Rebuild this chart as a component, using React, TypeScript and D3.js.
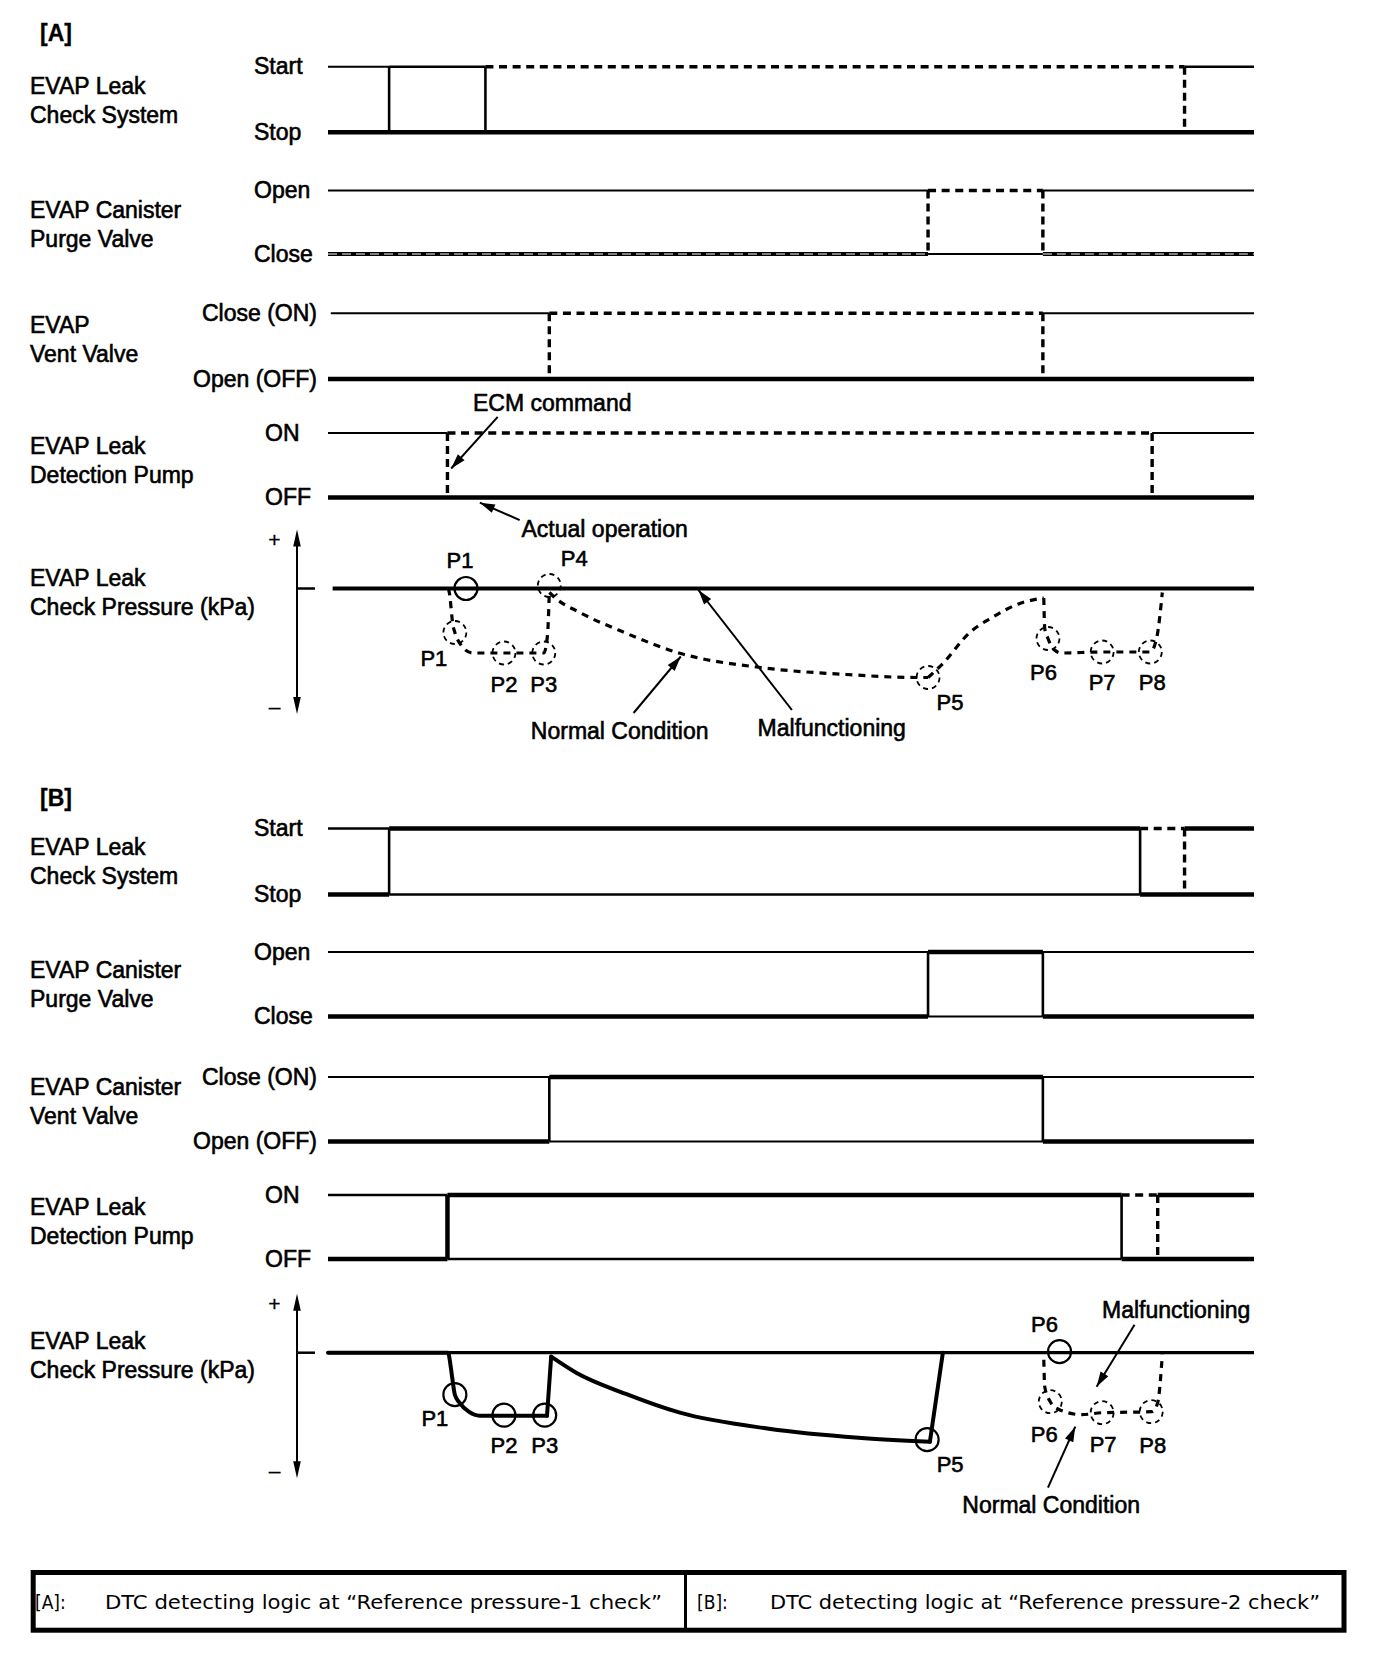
import React from "react";
import * as d3 from "d3";

const W = 1376;
const H = 1660;

// time runs 0..100 across the trace; pressure is relative to the reference level (0)
type Seg = [number, number, string];
type Edge = [number, string];
type Pt = [number, number];

const namesA = [["EVAP Leak", "Check System"], ["EVAP Canister", "Purge Valve"], ["EVAP", "Vent Valve"], ["EVAP Leak", "Detection Pump"]];
const namesB = [["EVAP Leak", "Check System"], ["EVAP Canister", "Purge Valve"], ["EVAP Canister", "Vent Valve"], ["EVAP Leak", "Detection Pump"]];
const stateNames = [["Start", "Stop"], ["Open", "Close"], ["Close (ON)", "Open (OFF)"], ["ON", "OFF"]];
const pressureName = ["EVAP Leak", "Check Pressure (kPa)"];

// [A] signal traces: high rail, low rail, transitions
const highA: Seg[][] = [
  [[0, 6.6, "rail"], [6.6, 17.0, "mid"], [17.0, 92.5, "cmd"], [92.5, 100, "mid"]],
  [[0, 64.8, "rail"], [64.8, 77.2, "cmd"], [77.2, 100, "rail"]],
  [[0.3, 23.9, "rail"], [23.9, 77.2, "cmd"], [77.2, 100, "rail"]],
  [[0, 12.9, "rail"], [12.9, 89.0, "cmd"], [89.0, 100, "rail"]],
];
const lowA: Seg[][] = [
  [[0, 100, "on"]],
  [[0, 64.8, "hatch"], [64.8, 77.2, "rail"], [77.2, 100, "hatch"]],
  [[0, 100, "on"]],
  [[0, 100, "on"]],
];
const edgesA: Edge[][] = [
  [[6.6, "mid"], [17.0, "mid"], [92.5, "cmd"]],
  [[64.8, "cmd"], [77.2, "cmd"]],
  [[23.9, "cmd"], [77.2, "cmd"]],
  [[12.9, "cmd"], [89.0, "cmd"]],
];

// [B] signal traces
const highB: Seg[][] = [
  [[0, 6.6, "mid"], [6.6, 87.7, "on"], [87.7, 92.5, "cmd"], [92.5, 100, "on"]],
  [[0, 100, "rail"], [64.8, 77.2, "on"]],
  [[0, 100, "rail"], [23.9, 77.2, "on"]],
  [[0, 12.9, "mid"], [12.9, 85.7, "on"], [85.7, 89.6, "cmd"], [89.6, 100, "on"]],
];
const lowB: Seg[][] = [
  [[0, 6.6, "on"], [6.6, 87.7, "mid"], [87.7, 100, "on"]],
  [[0, 64.8, "on"], [64.8, 77.2, "rail"], [77.2, 100, "on"]],
  [[0, 23.9, "on"], [23.9, 77.2, "rail"], [77.2, 100, "on"]],
  [[0, 12.9, "on"], [12.9, 85.7, "mid"], [85.7, 100, "on"]],
];
const edgesB: Edge[][] = [
  [[6.6, "mid"], [87.7, "mid"], [92.5, "cmd"]],
  [[64.8, "mid"], [77.2, "mid"]],
  [[23.9, "mid"], [77.2, "mid"]],
  [[12.9, "on"], [85.7, "mid"], [89.6, "cmd"]],
];

// pressure traces, one array per smooth stretch
const normalA: Pt[][] = [
  [[13.0, 0], [13.1, -0.04], [13.5, -0.37], [13.7, -0.44], [14.4, -0.57], [15.6, -0.645],
   [19.0, -0.645], [23.3, -0.645], [23.7, -0.47], [23.9, -0.04]],
  [[23.9, -0.04], [24.6, -0.1], [27.2, -0.24], [32.0, -0.44], [37.9, -0.645], [46.7, -0.79],
   [56.0, -0.86], [63.5, -0.89], [64.8, -0.89]],
  [[64.8, -0.89], [66.4, -0.75], [69.3, -0.44], [71.7, -0.29], [74.7, -0.15], [77.3, -0.095]],
  [[77.3, -0.095], [77.4, -0.4], [77.75, -0.5], [78.4, -0.61], [79.2, -0.645], [83.6, -0.635],
   [88.8, -0.635], [89.5, -0.49], [90.1, -0.04]],
];
const actualB: Pt[][] = [
  [[0, 0], [13.0, 0], [13.05, -0.02], [13.4, -0.24], [13.7, -0.42], [14.2, -0.5], [15.2, -0.59],
   [16.4, -0.63], [23.65, -0.63]],
  [[23.65, -0.63], [24.1, -0.04]],
  [[24.1, -0.04], [26.8, -0.2], [32.1, -0.41], [38.0, -0.6], [47.6, -0.76], [57.3, -0.85],
   [65.0, -0.89]],
  [[65.0, -0.89], [66.4, 0]],
];
const normalB: Pt[][] = [
  [[77.3, -0.07], [77.4, -0.34], [78.0, -0.49], [79.0, -0.57], [81.4, -0.62], [83.6, -0.6],
   [89.0, -0.59], [89.6, -0.5], [90.1, -0.02]],
];

const markersA = [
  { name: "P1", t: 14.9, p: 0, dashed: false },
  { name: "P4", t: 23.9, p: 0.03, dashed: true },
  { name: "P1", t: 13.7, p: -0.44, dashed: true },
  { name: "P2", t: 19.0, p: -0.645, dashed: true },
  { name: "P3", t: 23.3, p: -0.645, dashed: true },
  { name: "P5", t: 64.8, p: -0.89, dashed: true },
  { name: "P6", t: 77.75, p: -0.5, dashed: true },
  { name: "P7", t: 83.6, p: -0.635, dashed: true },
  { name: "P8", t: 88.8, p: -0.635, dashed: true },
];
const markersB = [
  { name: "P1", t: 13.7, p: -0.42, dashed: false },
  { name: "P2", t: 19.0, p: -0.625, dashed: false },
  { name: "P3", t: 23.4, p: -0.625, dashed: false },
  { name: "P5", t: 64.7, p: -0.87, dashed: false },
  { name: "P6", t: 79.0, p: 0.01, dashed: false },
  { name: "P6", t: 78.0, p: -0.49, dashed: true },
  { name: "P7", t: 83.6, p: -0.6, dashed: true },
  { name: "P8", t: 88.9, p: -0.59, dashed: true },
];

// callouts: text position, arrow tail, arrow head (t, value)
const callRowA = [
  { text: "ECM command", at: [15.66, 1.34], from: [18.33, 1.25], to: [13.3, 0.45], anchor: "start" },
  { text: "Actual operation", at: [20.9, -0.61], from: [20.7, -0.35], to: [16.4, -0.08], anchor: "start" },
];
const callPressA = [
  { text: "Normal Condition", at: [31.5, -1.5], from: [33.0, -1.245], to: [38.1, -0.68], anchor: "middle" },
  { text: "Malfunctioning", at: [54.4, -1.475], from: [50.1, -1.215], to: [40.0, -0.015], anchor: "middle" },
];
const callPressB = [
  { text: "Malfunctioning", at: [91.6, 0.35], from: [87.1, 0.28], to: [83.0, -0.34], anchor: "middle" },
  { text: "Normal Condition", at: [78.1, -1.6], from: [77.75, -1.35], to: [80.7, -0.74], anchor: "middle" },
];

const legendKeys = ["[A]:", "[B]:"];
const legendTexts = ["DTC detecting logic at \u201CReference pressure-1 check\u201D", "DTC detecting logic at \u201CReference pressure-2 check\u201D"];

// ---- layout ----
const x = d3.scaleLinear().domain([0, 100]).range([328, 1254]);
const FONT = "'Liberation Sans', Arial, Helvetica, sans-serif";
const layoutA = {
  title: "[A]", titleY: 41,
  rows: [[66.7, 132.3], [190.5, 254], [313.3, 379], [433, 497.5]],
  nameY: [94, 218, 333, 454],
  base: 588.5, pNameY: 585.7,
};
const layoutB = {
  title: "[B]", titleY: 806,
  rows: [[828.5, 894.5], [952, 1016.5], [1077, 1141.5], [1195, 1259]],
  nameY: [855, 978, 1095, 1215],
  base: 1352.7, pNameY: 1349.3,
};
const labelOffA = [[-6, -21], [25, -20], [-21, 33], [0, 38.7], [0, 38.7], [22, 32.5], [-4.5, 41.5], [0, 38], [2, 38]];
const labelOffB = [[-20, 31.7], [0, 37.5], [0, 37.5], [23, 32], [-15, -20], [-6, 40], [1, 39.7], [1.5, 41]];

const WIDTH: Record<string, number> = { rail: 2, mid: 2.6, on: 4.5, cmd: 3.4 };

const txt = { fontFamily: FONT, fontSize: 23, fill: "#000", stroke: "#000", strokeWidth: 0.6 } as const;

function hLine(key: string, a: number, b: number, y: number, kind: string) {
  if (kind === "hatch") {
    return (
      <g key={key}>
        <line x1={x(a)} x2={x(b)} y1={y} y2={y} stroke="#000" strokeWidth={4} />
        <line x1={x(a)} x2={x(b)} y1={y} y2={y} stroke="#fff" strokeWidth={1.2} strokeDasharray="9 5" />
      </g>
    );
  }
  return (
    <line key={key} x1={x(a)} x2={x(b)} y1={y} y2={y} stroke="#000" strokeWidth={WIDTH[kind]}
      strokeDasharray={kind === "cmd" ? "8 5.6" : undefined} />
  );
}

function arrowHead(x1: number, y1: number, x2: number, y2: number, len = 15, half = 4.5) {
  const a = Math.atan2(y2 - y1, x2 - x1);
  const bx = x2 - len * Math.cos(a);
  const by = y2 - len * Math.sin(a);
  const px = -Math.sin(a) * half;
  const py = Math.cos(a) * half;
  return `M${x2},${y2}L${bx + px},${by + py}L${bx - px},${by - py}Z`;
}

function Arrow({ x1, y1, x2, y2 }: { x1: number; y1: number; x2: number; y2: number }) {
  return (
    <g>
      <line x1={x1} y1={y1} x2={x2} y2={y2} stroke="#000" strokeWidth={2} />
      <path d={arrowHead(x1, y1, x2, y2)} fill="#000" />
    </g>
  );
}

function Panel({ layout, names, high, low, edges, rowCalls }: any) {
  return (
    <g>
      <text x={40} y={layout.titleY} {...txt} fontWeight="bold" strokeWidth={0.3}>{layout.title}</text>
      {layout.rows.map(([y0, y1]: number[], i: number) => (
        <g key={i}>
          <text x={30} y={layout.nameY[i]} {...txt}>{names[i][0]}</text>
          <text x={30} y={layout.nameY[i] + 28.5} {...txt}>{names[i][1]}</text>
          {stateNames[i].map((s, j) => {
            const yy = (j === 0 ? y0 : y1) + 7.5;
            if (i === 2) return <text key={j} x={317} y={yy} textAnchor="end" {...txt}>{s}</text>;
            return <text key={j} x={i === 3 ? 265 : 254} y={yy} {...txt}>{s}</text>;
          })}
          {high[i].map((s: Seg, k: number) => hLine(`h${k}`, s[0], s[1], y0, s[2]))}
          {low[i].map((s: Seg, k: number) => hLine(`l${k}`, s[0], s[1], y1, s[2]))}
          {edges[i].map((e: Edge, k: number) => (
            <line key={`e${k}`} x1={x(e[0])} x2={x(e[0])} y1={y0} y2={y1} stroke="#000"
              strokeWidth={e[1] === "cmd" ? 3.4 : WIDTH[e[1]]} strokeDasharray={e[1] === "cmd" ? "8 5" : undefined} />
          ))}
          {rowCalls && rowCalls
            .filter((c: any) => c.row === i)
            .map((c: any, k: number) => {
              const ly = (v: number) => y1 - (y1 - y0) * v;
              return (
                <g key={`c${k}`}>
                  <text x={x(c.at[0])} y={ly(c.at[1])} textAnchor={c.anchor} {...txt}>{c.text}</text>
                  <Arrow x1={x(c.from[0])} y1={ly(c.from[1])} x2={x(c.to[0])} y2={ly(c.to[1])} />
                </g>
              );
            })}
        </g>
      ))}
    </g>
  );
}

function Pressure({ layout, markers, offsets, solid, dashed, calls, baseFrom, baseWidth }: any) {
  const y = d3.scaleLinear().domain([0, -1]).range([layout.base, layout.base + 100]);
  const line = d3.line<Pt>().x((d) => x(d[0])).y((d) => y(d[1])).curve(d3.curveMonotoneX);
  const ax = 297;
  const top = y(0.59);
  const bot = y(-1.255);
  return (
    <g>
      <text x={30} y={layout.pNameY} {...txt}>{pressureName[0]}</text>
      <text x={30} y={layout.pNameY + 29} {...txt}>{pressureName[1]}</text>
      <line x1={ax} x2={ax} y1={top + 6} y2={bot - 6} stroke="#000" strokeWidth={2} />
      <path d={arrowHead(ax, top + 20, ax, top, 17, 3.8)} fill="#000" />
      <path d={arrowHead(ax, bot - 20, ax, bot, 17, 3.8)} fill="#000" />
      <text x={274.5} y={y(0.49)} dominantBaseline="central" textAnchor="middle" {...txt} fontSize={21} strokeWidth={0.3}>+</text>
      <text x={274.5} y={y(-1.18)} dominantBaseline="central" textAnchor="middle" {...txt} fontSize={21} strokeWidth={0.3}>{"\u2013"}</text>
      <line x1={298} x2={315} y1={y(0)} y2={y(0)} stroke="#000" strokeWidth={2.5} />
      <line x1={x(baseFrom)} x2={x(100)} y1={y(0)} y2={y(0)} stroke="#000" strokeWidth={baseWidth} />
      {solid && solid.map((pts: Pt[], i: number) => (
        <path key={`s${i}`} d={line(pts) || ""} fill="none" stroke="#000" strokeWidth={4}
          strokeLinejoin="round" strokeLinecap="round" />
      ))}
      {dashed && dashed.map((pts: Pt[], i: number) => (
        <path key={`d${i}`} d={line(pts) || ""} fill="none" stroke="#000" strokeWidth={3.2} strokeDasharray="7 6" />
      ))}
      {markers.map((m: any, i: number) => (
        <g key={i}>
          <circle cx={x(m.t)} cy={y(m.p)} r={11.5} fill="none" stroke="#000"
            strokeWidth={m.dashed ? 1.8 : 2.2} strokeDasharray={m.dashed ? "5 4" : undefined} />
          <text x={x(m.t) + offsets[i][0]} y={y(m.p) + offsets[i][1]} textAnchor="middle" {...txt} fontSize={22}>{m.name}</text>
        </g>
      ))}
      {calls.map((c: any, i: number) => (
        <g key={`c${i}`}>
          <text x={x(c.at[0])} y={y(c.at[1])} textAnchor={c.anchor} {...txt}>{c.text}</text>
          <Arrow x1={x(c.from[0])} y1={y(c.from[1])} x2={x(c.to[0])} y2={y(c.to[1])} />
        </g>
      ))}
    </g>
  );
}

export default function App() {
  const rowCallsA = callRowA.map((c) => ({ ...c, row: 3 }));
  const legendFont = "'DejaVu Sans Condensed', 'DejaVu Sans', Verdana, sans-serif";
  const cells = [
    { keyX: 35, textX: 105, len: 557 },
    { keyX: 697, textX: 770, len: 550 },
  ];
  return (
    <svg width={W} height={H} viewBox={`0 0 ${W} ${H}`}
      style={{ position: "absolute", left: 0, top: 0, display: "block", background: "#fff" }}>
      <rect width={W} height={H} fill="#fff" />
      <Panel layout={layoutA} names={namesA} high={highA} low={lowA} edges={edgesA} rowCalls={rowCallsA} />
      <Pressure layout={layoutA} markers={markersA} offsets={labelOffA} dashed={normalA}
        calls={callPressA} baseFrom={0.5} baseWidth={4.2} />
      <Panel layout={layoutB} names={namesB} high={highB} low={lowB} edges={edgesB} />
      <Pressure layout={layoutB} markers={markersB} offsets={labelOffB} solid={actualB} dashed={normalB}
        calls={callPressB} baseFrom={0} baseWidth={3.2} />

      <rect x={33.2} y={1572.5} width={1310.8} height={57.7} fill="none" stroke="#000" strokeWidth={5} />
      <line x1={685.5} x2={685.5} y1={1572.5} y2={1630.2} stroke="#000" strokeWidth={3} />
      {cells.map((c, i) => (
        <g key={i} fontFamily={legendFont} fontSize={19} fill="#000">
          <text x={c.keyX} y={1608.5}>{legendKeys[i]}</text>
          <text x={c.textX} y={1608.5} textLength={c.len} lengthAdjust="spacingAndGlyphs">{legendTexts[i]}</text>
        </g>
      ))}
    </svg>
  );
}
